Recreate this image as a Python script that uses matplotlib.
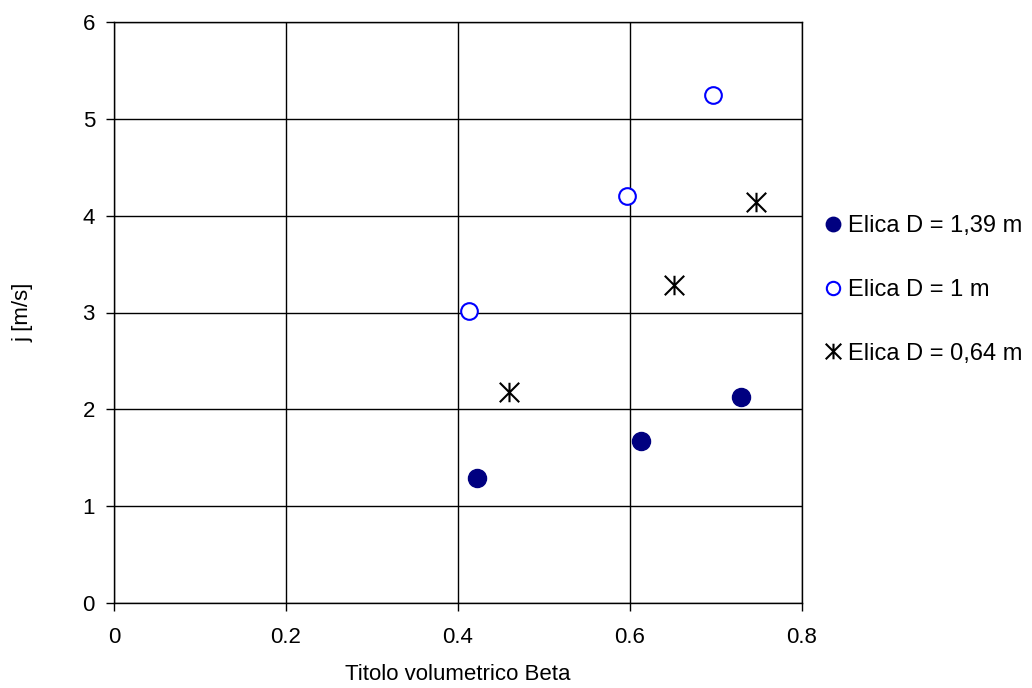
import matplotlib
matplotlib.use("Agg")
import matplotlib.pyplot as plt
from matplotlib.path import Path

plt.rcParams['font.family'] = ['Liberation Sans', 'DejaVu Sans']

# Data
beta_139 = [0.422, 0.613, 0.729]
j_139 = [1.29, 1.67, 2.13]
beta_100 = [0.413, 0.596, 0.697]
j_100 = [3.02, 4.20, 5.25]
beta_064 = [0.459, 0.651, 0.746]
j_064 = [2.18, 3.28, 4.14]
labels = ["Elica D = 1,39 m", "Elica D = 1 m", "Elica D = 0,64 m"]
xticks = [0, 0.2, 0.4, 0.6, 0.8]
yticks = [0, 1, 2, 3, 4, 5, 6]

star = Path([(0, -1), (0, 1), (-1, -1), (1, 1), (-1, 1), (1, -1)],
            [Path.MOVETO, Path.LINETO, Path.MOVETO, Path.LINETO, Path.MOVETO, Path.LINETO])

fig = plt.figure(figsize=(10.32, 6.88), dpi=100)
ax = fig.add_axes([114/1032, 1-603/688, (802-114)/1032, (603-22)/688])

ax.plot(beta_139, j_139, linestyle='none', marker='o', ms=13, mfc='#000080', mec='#000080', label=labels[0], zorder=3)
ax.plot(beta_100, j_100, linestyle='none', marker='o', ms=12, mfc='white', mec='#0000FF', mew=1.5, label=labels[1], zorder=3)
ax.plot(beta_064, j_064, linestyle='none', marker=star, ms=14, mec='black', mew=1.5, label=labels[2], zorder=3)

ax.set_xlim(0, 0.8)
ax.set_ylim(0, 6)
ax.set_xticks(xticks)
ax.set_xticklabels([f"{t:g}" for t in xticks])
ax.set_yticks(yticks)
ax.grid(True, color='black', linewidth=1)
ax.set_axisbelow(True)
for s in ax.spines.values():
    s.set_color('black')
    s.set_linewidth(1)
ax.tick_params(direction='out', length=6, width=1, labelsize=16)
ax.tick_params(axis='x', pad=11.3)
ax.tick_params(axis='y', pad=7.7)
ax.set_xlabel("Titolo volumetrico Beta", fontsize=16, va='center')
ax.xaxis.set_label_coords(0.5, (603 - 675) / 581)
ax.set_ylabel("j [m/s]", fontsize=16)
ax.yaxis.set_label_coords((33 - 114) / 688, 0.5)

leg = ax.legend(loc='upper left', bbox_to_anchor=(816.5/1032, 1-206/688), bbox_transform=fig.transFigure,
                frameon=False, fontsize=17, markerscale=0.8, handlelength=0.6, handletextpad=0.35,
                labelspacing=1.76, borderaxespad=0)

fig.savefig("out.png", dpi=100)
